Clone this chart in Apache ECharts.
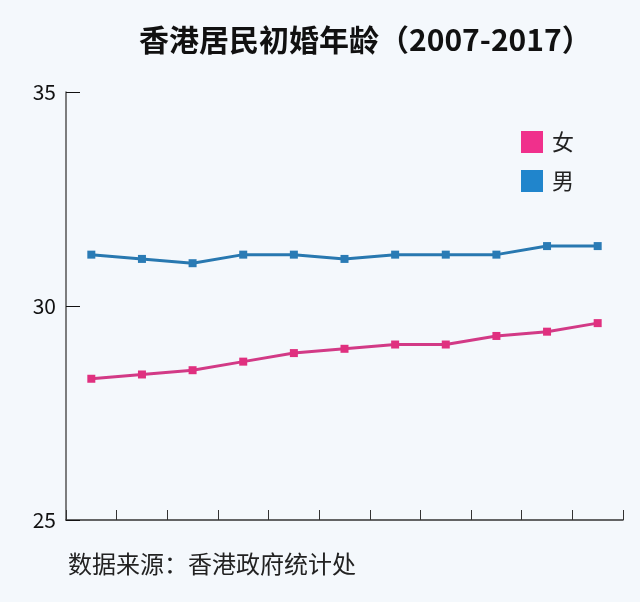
<!DOCTYPE html>
<html>
<head>
<meta charset="utf-8">
<script src="https://cdn.jsdelivr.net/npm/echarts@6/dist/echarts.min.js"></script>
<style>
  html, body { margin: 0; padding: 0; background: #f4f8fc; }
  #chart { width: 640px; height: 602px; }
</style>
</head>
<body>
<div id="chart"></div>
<script>
  // 数据
  var years = ['2007', '2008', '2009', '2010', '2011', '2012', '2013', '2014', '2015', '2016', '2017']
  var female = [28.3, 28.4, 28.5, 28.7, 28.9, 29.0, 29.1, 29.1, 29.3, 29.4, 29.6]
  var male = [31.2, 31.1, 31.0, 31.2, 31.2, 31.1, 31.2, 31.2, 31.2, 31.4, 31.4]

  var font = '"Noto Sans CJK SC", "Noto Sans", sans-serif'
  var chart = echarts.init(document.getElementById('chart'))
  chart.setOption({
    backgroundColor: '#f4f8fc',
    textStyle: { fontFamily: font },
    title: {
      text: '香港居民初婚年龄（2007-2017）',
      left: 134,
      top: 20,
      textStyle: { fontSize: 30, fontWeight: 'bold', color: '#111', fontFamily: font }
    },
    legend: {
      orient: 'vertical',
      left: 516,
      top: 126,
      itemWidth: 22,
      itemHeight: 22,
      itemGap: 17,
      icon: 'rect',
      textStyle: { fontSize: 22, color: '#222', padding: [0, 0, 0, 4] },
      data: [
        { name: '女', itemStyle: { color: '#f0308c' } },
        { name: '男', itemStyle: { color: '#2085cc' } }
      ]
    },
    grid: { left: 66, right: 17, top: 92, bottom: 82 },
    xAxis: {
      type: 'category',
      data: years,
      boundaryGap: true,
      axisLine: { lineStyle: { color: '#333', width: 1.5 } },
      axisTick: { show: true, interval: 0, inside: true, length: 10, lineStyle: { color: '#333' } },
      axisLabel: { show: false, interval: 0 }
    },
    yAxis: {
      type: 'value',
      min: 25,
      max: 35,
      interval: 5,
      axisLine: { show: true, lineStyle: { color: '#555', width: 1.5 } },
      axisTick: { show: true, inside: true, length: 14, lineStyle: { color: '#111' } },
      axisLabel: { fontSize: 21, color: '#111', margin: 10 },
      splitLine: { show: false }
    },
    series: [
      {
        name: '女',
        type: 'line',
        data: female,
        symbol: 'rect',
        symbolSize: 8,
        lineStyle: { color: '#d23a86', width: 3 },
        itemStyle: { color: '#e0307f' }
      },
      {
        name: '男',
        type: 'line',
        data: male,
        symbol: 'rect',
        symbolSize: 8,
        lineStyle: { color: '#2878b0', width: 3 },
        itemStyle: { color: '#2a7bb5' }
      }
    ],
    graphic: [
      {
        type: 'text',
        left: 68,
        top: 552,
        style: { text: '数据来源：香港政府统计处', fontSize: 24, fill: '#222', fontFamily: font }
      }
    ]
  })
</script>
</body>
</html>
